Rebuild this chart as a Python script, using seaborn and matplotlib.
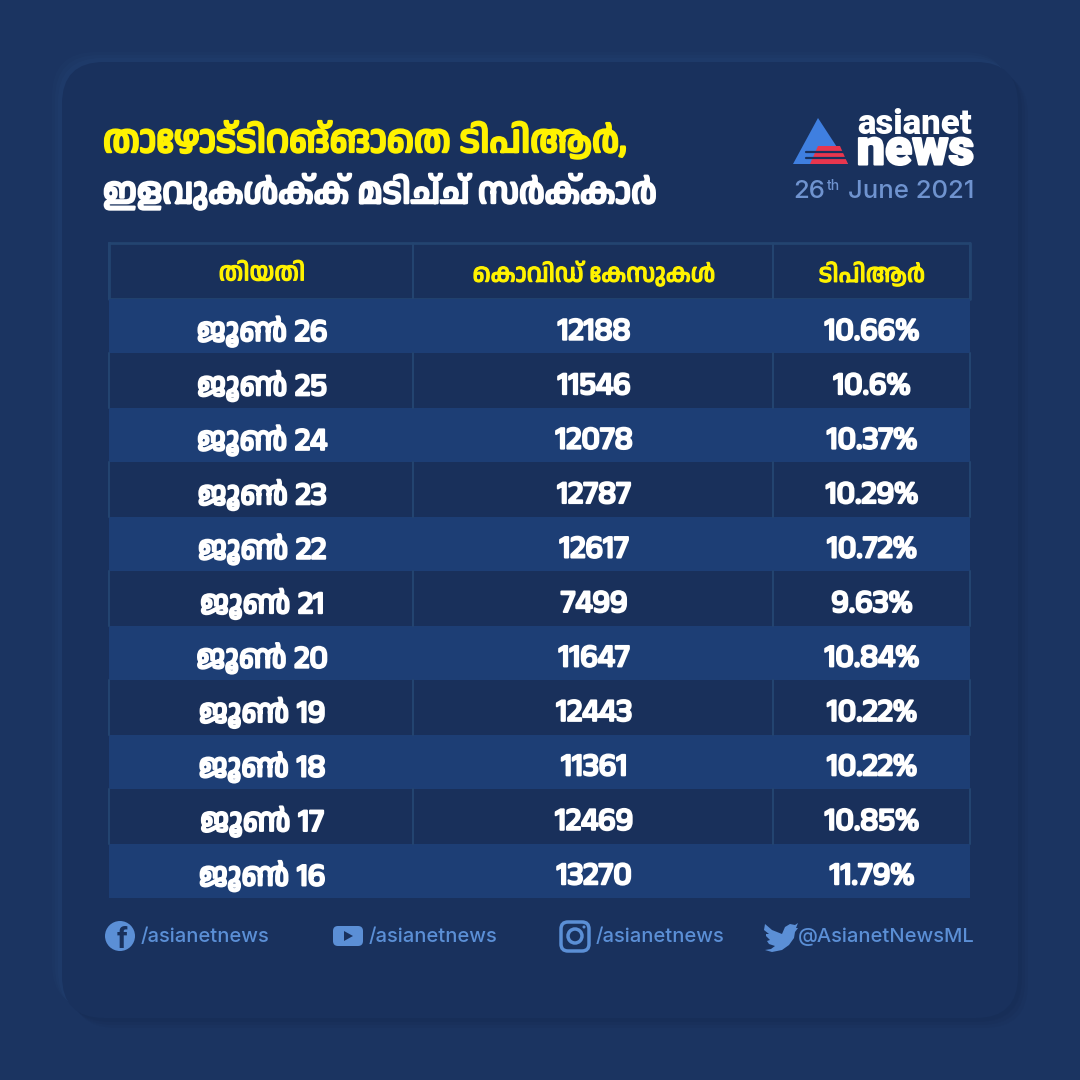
import re
import numpy as np
import matplotlib
matplotlib.use("Agg")
import matplotlib.pyplot as plt
import matplotlib.patheffects as pe
from matplotlib.colors import ListedColormap
from matplotlib.patches import Circle, FancyBboxPatch, Polygon
import seaborn as sns

title_lines = ["താഴോട്ടിറങ്ങാതെ ടിപിആർ,", "ഇളവുകൾക്ക് മടിച്ച് സർക്കാർ"]
headers = ["തിയതി", "കൊവിഡ് കേസുകൾ", "ടിപിആർ"]
dates = ["ജൂൺ 26", "ജൂൺ 25", "ജൂൺ 24", "ജൂൺ 23", "ജൂൺ 22", "ജൂൺ 21",
         "ജൂൺ 20", "ജൂൺ 19", "ജൂൺ 18", "ജൂൺ 17", "ജൂൺ 16"]
cases = [12188, 11546, 12078, 12787, 12617, 7499, 11647, 12443, 11361, 12469, 13270]
tpr = ["10.66%", "10.6%", "10.37%", "10.29%", "10.72%", "9.63%",
       "10.84%", "10.22%", "10.22%", "10.85%", "11.79%"]
handles = ["/asianetnews", "/asianetnews", "/asianetnews", "@AsianetNewsML"]

BG = "#1b3461"
CARD = "#19315d"
DARK = "#19305b"
STRIPE = "#1d3e75"
LINE = "#234470"
YELLOW = "#fff200"
BLUE = "#5b8fd6"
DATEBLUE = "#6f93cf"
ML = ["Anek Malayalam", "DejaVu Sans"]

# matplotlib has no text shaper, so vowel signs that sit left of the consonant
# have to come first in the string it draws
PRE = {"\u0d46": ("\u0d46", ""), "\u0d47": ("\u0d47", ""), "\u0d48": ("\u0d48", ""),
       "\u0d4a": ("\u0d46", "\u0d3e"), "\u0d4b": ("\u0d47", "\u0d3e")}


def visual(s):
    return re.sub("(.)([\u0d46\u0d47\u0d48\u0d4a\u0d4b])",
                  lambda m: PRE[m[2]][0] + m[1] + PRE[m[2]][1], s)


def heavy(color, lw=1.2):
    return [pe.withStroke(linewidth=lw, foreground=color)]


sns.set_theme(style="white")
plt.rcParams["font.family"] = ["Roboto", "DejaVu Sans"]

fig = plt.figure(figsize=(10.8, 10.8), dpi=100, facecolor=BG)

# pixel canvas for the card, title, logo and footer
bg = fig.add_axes([0, 0, 1, 1], zorder=0)
bg.set_xlim(0, 1080)
bg.set_ylim(1080, 0)
bg.axis("off")
# soft light and dark edges round the card
for off, a in zip([10, 7, 4], [0.10, 0.12, 0.15]):
    bg.add_patch(FancyBboxPatch((62 + off, 62 + off), 956, 956, ec="none",
                                boxstyle="round,pad=0,rounding_size=44", fc="#122549", alpha=a))
    bg.add_patch(FancyBboxPatch((62 - off, 62 - off), 956, 956, ec="none",
                                boxstyle="round,pad=0,rounding_size=44", fc="#2a4a7c", alpha=a))
bg.add_patch(FancyBboxPatch((62, 62), 956, 956, boxstyle="round,pad=0,rounding_size=42",
                            fc=CARD, ec="none"))

bg.text(103, 140, visual(title_lines[0]), color=YELLOW, fontsize=27, family=ML, va="center",
        path_effects=heavy(YELLOW, 1.8))
bg.text(103, 192, visual(title_lines[1]), color="white", fontsize=25.5, family=ML, va="center",
        path_effects=heavy("white", 1.8))

# logo
bg.add_patch(Polygon([(818, 118), (793, 164), (848, 164)], fc="#3f7fe0", ec="none"))
bg.add_patch(Polygon([(818, 146), (840, 146), (848, 164), (810, 164)], fc="#e8364e", ec="none"))
for y in (152, 158):
    bg.plot([806, 852], [y, y], color=CARD, lw=1.6)
bg.text(972, 124, "asianet", color="white", fontsize=25, fontweight="black",
        ha="right", va="center")
bg.text(974, 151, "news", color="white", fontsize=36, fontweight="black",
        ha="right", va="center", path_effects=heavy("white", 1.5))
bg.text(974, 192, "June 2021", color=DATEBLUE, fontsize=18.5, fontweight="medium",
        ha="right", va="center", family=["Inter", "DejaVu Sans"])
bg.text(793, 192, "26", color=DATEBLUE, fontsize=18.5, fontweight="medium", va="center",
        family=["Inter", "DejaVu Sans"])
bg.text(827, 186, "th", color=DATEBLUE, fontsize=10, fontweight="medium", va="center",
        family=["Inter", "DejaVu Sans"])

# header row and body rows are two heatmaps, the rows differ a little in height
head = fig.add_axes([109 / 1080, 1 - 299 / 1080, 861 / 1080, 56 / 1080], zorder=1)
sns.heatmap(np.array([[0]]), ax=head, cmap=ListedColormap([DARK]), cbar=False,
            xticklabels=False, yticklabels=False)
stripes = np.array([[(i + 1) % 2] for i in range(len(dates))])
ax = fig.add_axes([109 / 1080, 1 - 898 / 1080, 861 / 1080, 599 / 1080], zorder=1)
sns.heatmap(stripes, ax=ax, cmap=ListedColormap([DARK, STRIPE]), cbar=False,
            xticklabels=False, yticklabels=False)
ax.set_xlim(0, 1)
ax.set_ylim(len(dates), 0)
head.set_xlim(0, 1)
head.set_ylim(1, 0)

col_edges = [0, 304 / 861, 664 / 861, 1]
col_mid = [153 / 861, 485 / 861, 763 / 861]
head.plot([0, 1, 1, 0, 0], [0, 0, 1, 1, 0], color=LINE, lw=2, clip_on=False)
for x in col_edges:
    head.plot([x, x], [0, 1], color=LINE, lw=1.5, clip_on=False)
    for i in range(1, len(dates), 2):
        ax.plot([x, x], [i, i + 1], color=LINE, lw=1.5, clip_on=False)

for x, label in zip(col_mid, headers):
    head.text(x, 0.55, visual(label), color=YELLOW, fontsize=18, family=ML,
              ha="center", va="center", path_effects=heavy(YELLOW, 0.9))
for i, (d, c, t) in enumerate(zip(dates, cases, tpr)):
    y = i + 0.6
    ax.text(col_mid[0], y, d, color="white", fontsize=23, family=ML,
            ha="center", va="center", path_effects=heavy("white", 1.5))
    ax.text(col_mid[1], y, str(c), color="white", fontsize=23, family=ML,
            ha="center", va="center", path_effects=heavy("white", 1.5))
    ax.text(col_mid[2], y, t, color="white", fontsize=23, family=ML,
            ha="center", va="center", path_effects=heavy("white", 1.5))

# footer icons
bg.add_patch(Circle((120, 936), 15, fc=BLUE, ec="none"))
bg.text(122, 940, "f", color=CARD, fontsize=21, fontweight="bold", ha="center", va="center")
bg.add_patch(FancyBboxPatch((333, 926), 30, 20, boxstyle="round,pad=0,rounding_size=5",
                            fc=BLUE, ec="none"))
bg.add_patch(Polygon([(344, 931), (344, 941), (353, 936)], fc=CARD, ec="none"))
bg.add_patch(FancyBboxPatch((561, 922), 28, 29, boxstyle="round,pad=0,rounding_size=7",
                            fc="none", ec=BLUE, lw=2.5))
bg.add_patch(Circle((575, 936), 7, fc="none", ec=BLUE, lw=2.5))
bg.add_patch(Circle((584, 927), 1.5, fc=BLUE, ec="none"))
bg.add_patch(Polygon([(765, 924), (772, 930), (782, 934), (785, 927), (790, 924), (795, 925),
                      (798, 923), (796, 928), (798, 928), (795, 932), (794, 938), (789, 945),
                      (782, 950), (772, 952), (765, 950), (771, 949), (775, 946), (769, 944),
                      (767, 941), (770, 940), (766, 936), (766, 934), (769, 934), (764, 930)],
                     fc=BLUE, ec="none"))

for x, h, ha in zip([141, 369, 596, 975], handles, ["left", "left", "left", "right"]):
    bg.text(x, 937, h, color=BLUE, fontsize=14.5, fontweight="medium", ha=ha, va="center",
            family=["Inter", "DejaVu Sans"])

fig.savefig("out.png", dpi=100, facecolor=BG)
